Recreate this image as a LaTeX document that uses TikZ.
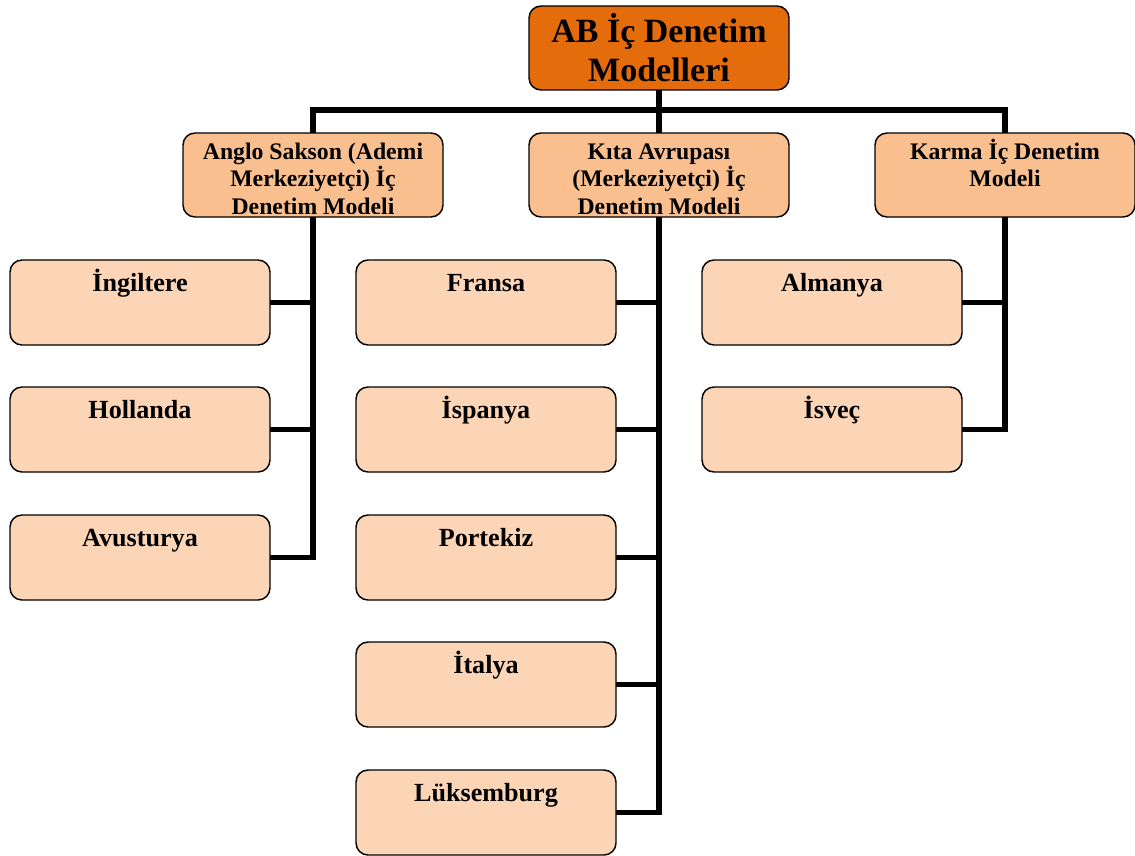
\documentclass[tikz,border=0pt]{standalone}
\usepackage{fontspec}
\setmainfont{Liberation Serif}
\definecolor{topfill}{RGB}{228,108,10}
\definecolor{midfill}{RGB}{250,191,143}
\definecolor{leaffill}{RGB}{251,213,181}
\begin{document}
\begin{tikzpicture}[x=0.75pt,y=-0.75pt,
  box/.style={draw=black, line width=1.1pt, rounded corners=9pt, outer sep=0pt,
    inner sep=0pt, minimum width=195pt},
  topbox/.style={box, fill=topfill, minimum height=63pt},
  midbox/.style={box, fill=midfill, minimum height=63pt},
  leafbox/.style={box, fill=leaffill, minimum height=63.75pt},
  link/.style={line width=4.1pt, line join=miter},
  toptext/.style={anchor=base, inner sep=0pt, font=\fontsize{25.5}{29}\selectfont\bfseries},
  midtext/.style={anchor=base, inner sep=0pt, font=\fontsize{17.8}{19.5}\selectfont\bfseries},
  leaftext/.style={anchor=base, inner sep=0pt, font=\fontsize{19.6}{23}\selectfont\bfseries}]
\useasboundingbox (0,0) rectangle (1135,856);

% boxes
\node[topbox] (top) at (659,48) {};
\node[midbox] (anglo) at (313,175) {};
\node[midbox] (kita) at (659,175) {};
\node[midbox] (karma) at (1005,175) {};

\node[leafbox] (ingiltere) at (140,302.5) {};
\node[leafbox] (hollanda) at (140,429.5) {};
\node[leafbox] (avusturya) at (140,557.5) {};

\node[leafbox] (fransa) at (486,302.5) {};
\node[leafbox] (ispanya) at (486,429.5) {};
\node[leafbox] (portekiz) at (486,557.5) {};
\node[leafbox] (italya) at (486,684.5) {};
\node[leafbox] (luksemburg) at (486,812.5) {};

\node[leafbox] (almanya) at (832,302.5) {};
\node[leafbox] (isvec) at (832,429.5) {};

% connectors
\coordinate (bar) at (659,110);
\draw[link] (top.south) -- (kita.north);
\draw[link] (anglo.north) |- (bar) -| (karma.north);

\draw[link] (anglo.south) |- (avusturya.east);
\draw[link] (ingiltere.east) -- (ingiltere.east -| anglo.south);
\draw[link] (hollanda.east) -- (hollanda.east -| anglo.south);

\draw[link] (kita.south) |- (luksemburg.east);
\draw[link] (fransa.east) -- (fransa.east -| kita.south);
\draw[link] (ispanya.east) -- (ispanya.east -| kita.south);
\draw[link] (portekiz.east) -- (portekiz.east -| kita.south);
\draw[link] (italya.east) -- (italya.east -| kita.south);

\draw[link] (karma.south) |- (isvec.east);
\draw[link] (almanya.east) -- (almanya.east -| karma.south);

% texts
\node[toptext] (t1) at (659,43) {AB İç Denetim};
\node[toptext] (t2) at (659,82) {Modelleri};

% the third line runs past the box and is cut at its text area
\begin{scope}
  \clip (anglo.north west) rectangle ([yshift=3pt]anglo.south east);
  \node[midtext] (a1) at (313,159) {Anglo Sakson (Ademi};
  \node[midtext] (a2) at (313,186.5) {Merkeziyetçi) İç};
  \node[midtext] (a3) at (313,214.5) {Denetim Modeli};
\end{scope}

\begin{scope}
  \clip (kita.north west) rectangle ([yshift=3pt]kita.south east);
  \node[midtext] (k1) at (659,159) {Kıta Avrupası};
  \node[midtext] (k2) at (659,186.5) {(Merkeziyetçi) İç};
  \node[midtext] (k3) at (659,214.5) {Denetim Modeli};
\end{scope}

\node[midtext] (m1) at (1005,159) {Karma İç Denetim};
\node[midtext] (m2) at (1005,186.5) {Modeli};

\node[leaftext] (l1) at (140,291) {İngiltere};
\node[leaftext] (l2) at (140,418) {Hollanda};
\node[leaftext] (l3) at (140,546) {Avusturya};
\node[leaftext] (l4) at (486,291) {Fransa};
\node[leaftext] (l5) at (486,418) {İspanya};
\node[leaftext] (l6) at (486,546) {Portekiz};
\node[leaftext] (l7) at (486,673) {İtalya};
\node[leaftext] (l8) at (486,801) {Lüksemburg};
\node[leaftext] (l9) at (832,291) {Almanya};
\node[leaftext] (l10) at (832,418) {İsveç};
\end{tikzpicture}
\end{document}
